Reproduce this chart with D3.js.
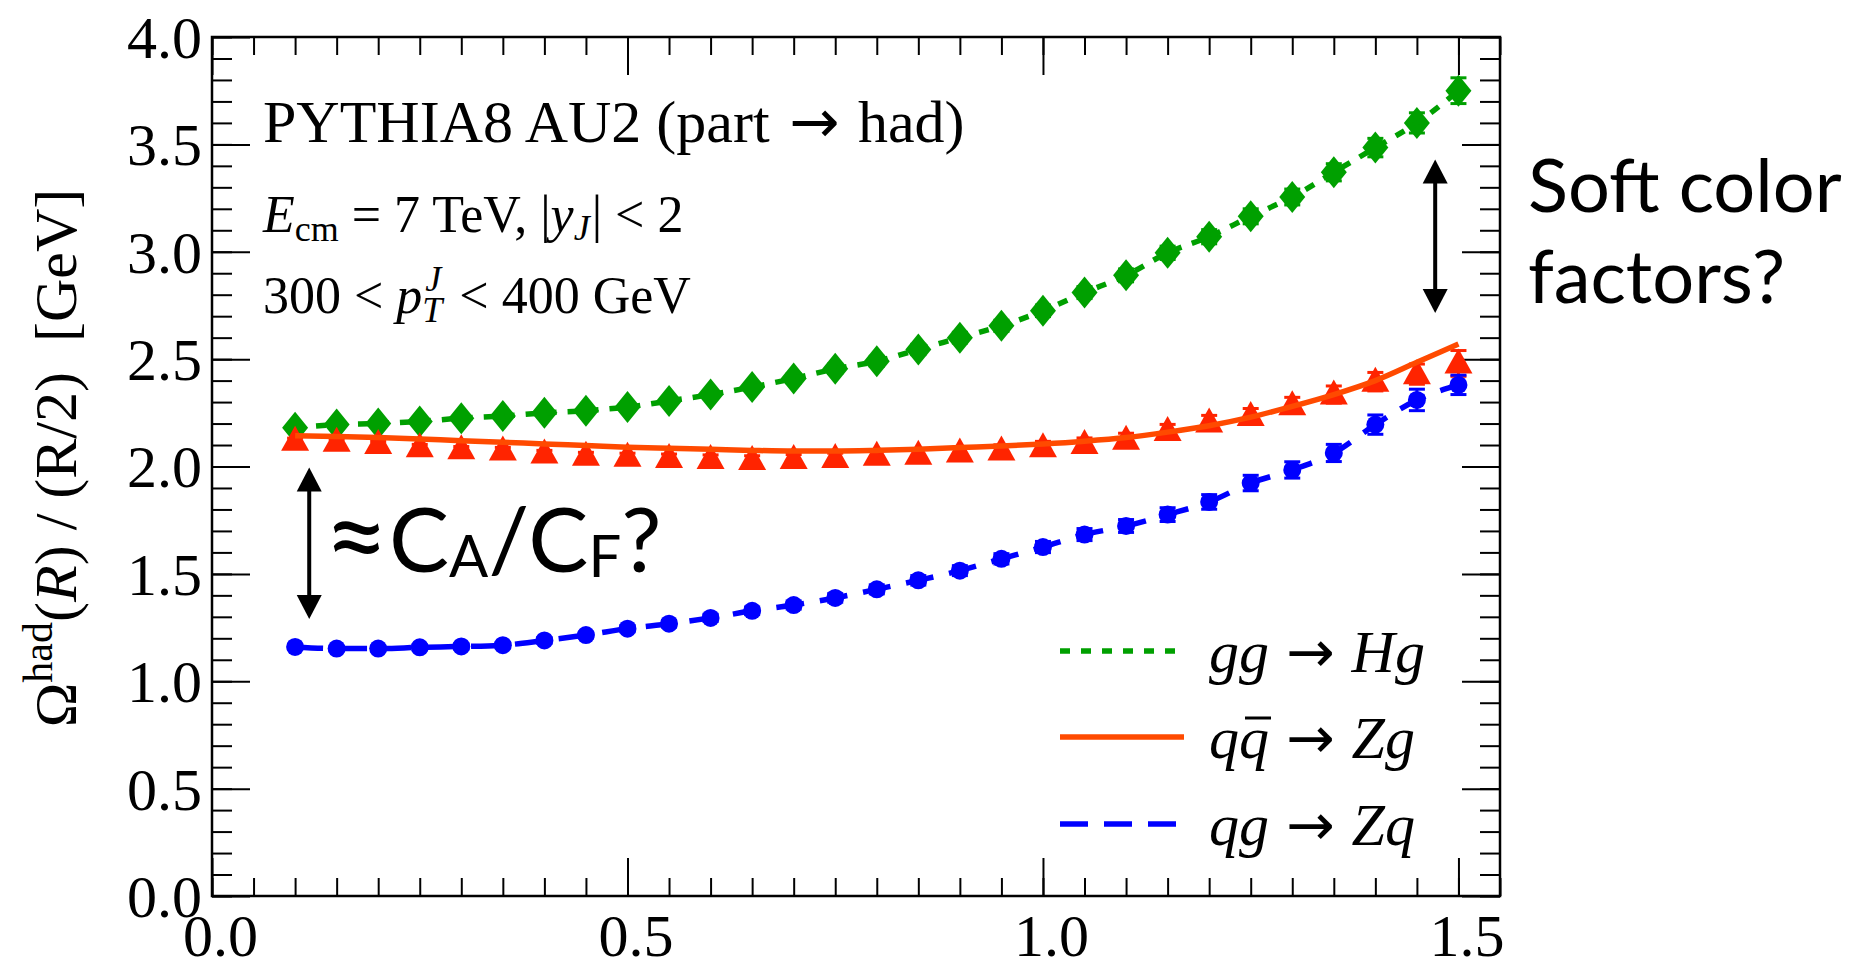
<!DOCTYPE html>
<html>
<head>
<meta charset="utf-8">
<script src="https://cdn.jsdelivr.net/npm/d3@7"></script>
<style>
  body { margin: 0; background: #fff; }
  svg text { font-family: "Liberation Serif", "Times New Roman", serif; white-space: pre; }
  svg text.sans { font-family: Lato, "Open Sans", sans-serif; }
  svg tspan.arrow { font-family: "DejaVu Sans", sans-serif; font-style: normal; }
</style>
</head>
<body>
<script>
// R values (bin centres)
const rValues = [0.10, 0.15, 0.20, 0.25, 0.30, 0.35, 0.40, 0.45, 0.50, 0.55,
                 0.60, 0.65, 0.70, 0.75, 0.80, 0.85, 0.90, 0.95, 1.00, 1.05,
                 1.10, 1.15, 1.20, 1.25, 1.30, 1.35, 1.40, 1.45, 1.50];

// gg -> Hg (green diamonds, dotted line)
const ggHg = [2.180, 2.195, 2.200, 2.210, 2.225, 2.235, 2.250, 2.260, 2.277, 2.305,
              2.335, 2.370, 2.410, 2.455, 2.490, 2.545, 2.600, 2.655, 2.725, 2.810,
              2.890, 2.995, 3.070, 3.165, 3.255, 3.370, 3.485, 3.600, 3.750];
const ggHgErr = [0.012, 0.012, 0.012, 0.013, 0.013, 0.014, 0.015, 0.016, 0.017, 0.018,
                 0.019, 0.020, 0.021, 0.022, 0.023, 0.024, 0.025, 0.026, 0.027, 0.028,
                 0.030, 0.031, 0.033, 0.035, 0.037, 0.040, 0.043, 0.047, 0.060];

// q qbar -> Zg (red triangles) and its solid curve
const qqZg = [2.120, 2.115, 2.105, 2.090, 2.080, 2.075, 2.060, 2.050, 2.045, 2.040,
              2.035, 2.030, 2.035, 2.040, 2.050, 2.055, 2.065, 2.075, 2.090, 2.105,
              2.125, 2.165, 2.205, 2.235, 2.285, 2.335, 2.395, 2.430, 2.480];
const qqZgErr = [0.012, 0.012, 0.012, 0.013, 0.013, 0.014, 0.015, 0.016, 0.017, 0.018,
                 0.019, 0.020, 0.021, 0.022, 0.023, 0.024, 0.025, 0.026, 0.027, 0.028,
                 0.030, 0.031, 0.033, 0.035, 0.037, 0.040, 0.043, 0.047, 0.060];
const qqZgCurve = [2.143, 2.140, 2.135, 2.128, 2.120, 2.113, 2.105, 2.098, 2.090, 2.085,
                   2.080, 2.075, 2.072, 2.072, 2.075, 2.080, 2.088, 2.095, 2.105, 2.118,
                   2.135, 2.160, 2.190, 2.230, 2.280, 2.335, 2.400, 2.485, 2.570];

// qg -> Zq (blue circles, dashed line)
const qgZq = [1.160, 1.152, 1.152, 1.158, 1.162, 1.168, 1.190, 1.215, 1.245, 1.268,
              1.295, 1.328, 1.355, 1.388, 1.428, 1.470, 1.515, 1.570, 1.625, 1.683,
              1.723, 1.776, 1.835, 1.923, 1.984, 2.063, 2.195, 2.310, 2.380];
const qgZqErr = [0.010, 0.010, 0.011, 0.011, 0.012, 0.012, 0.013, 0.014, 0.015, 0.016,
                 0.017, 0.018, 0.019, 0.020, 0.021, 0.022, 0.023, 0.024, 0.026, 0.028,
                 0.030, 0.032, 0.034, 0.036, 0.038, 0.040, 0.045, 0.050, 0.045];

const xTickLabels = ['0.0', '0.5', '1.0', '1.5'];
const yTickLabels = ['0.0', '0.5', '1.0', '1.5', '2.0', '2.5', '3.0', '3.5', '4.0'];

const width = 1872, height = 962;
const plot = { left: 212, right: 1500, top: 37, bottom: 896 };

const x = d3.scaleLinear().domain([0, 1.55]).range([plot.left, plot.right]);
const y = d3.scaleLinear().domain([0, 4]).range([plot.bottom, plot.top]);

const svg = d3.select('body').append('svg')
    .attr('width', width)
    .attr('height', height);

// ---- axes (ticks on all 4 sides, pointing inward) ----
const xMinor = d3.range(0, 32).map(i => i * 0.05);
const xMajor = xTickLabels.map(Number);
const yMinor = d3.range(0, 41).map(i => i * 0.1);
const yMajor = yTickLabels.map(Number);

const addAxis = (axis, tx, ty) => {
  const g = svg.append('g').attr('transform', `translate(${tx},${ty})`).call(axis);
  g.select('.domain').remove();
  g.selectAll('line').attr('stroke', '#000').attr('stroke-width', 2);
  return g;
};

addAxis(d3.axisBottom(x).tickValues(xMinor).tickSizeInner(-18).tickSizeOuter(0).tickFormat(''), 0, plot.bottom);
addAxis(d3.axisTop(x).tickValues(xMinor).tickSizeInner(-18).tickSizeOuter(0).tickFormat(''), 0, plot.top);
addAxis(d3.axisTop(x).tickValues(xMajor).tickSizeInner(-38).tickSizeOuter(0).tickFormat(''), 0, plot.top);
const gx = addAxis(d3.axisBottom(x).tickValues(xMajor).tickSizeInner(-38).tickSizeOuter(0)
    .tickPadding(17).tickFormat((d, i) => xTickLabels[i]), 0, plot.bottom);
gx.selectAll('text')
    .attr('font-family', '"Liberation Serif", serif')
    .attr('font-size', 60)
    .attr('dx', 8)
    .attr('fill', '#000');

addAxis(d3.axisLeft(y).tickValues(yMinor).tickSizeInner(-20).tickSizeOuter(0).tickFormat(''), plot.left, 0);
addAxis(d3.axisRight(y).tickValues(yMinor).tickSizeInner(-20).tickSizeOuter(0).tickFormat(''), plot.right, 0);
addAxis(d3.axisRight(y).tickValues(yMajor).tickSizeInner(-38).tickSizeOuter(0).tickFormat(''), plot.right, 0);
const gy = addAxis(d3.axisLeft(y).tickValues(yMajor).tickSizeInner(-38).tickSizeOuter(0)
    .tickPadding(10).tickFormat((d, i) => yTickLabels[i]), plot.left, 0);
gy.selectAll('text')
    .attr('font-family', '"Liberation Serif", serif')
    .attr('font-size', 60)
    .attr('dy', '0.34em')
    .attr('fill', '#000');

svg.append('rect')
    .attr('x', plot.left).attr('y', plot.top)
    .attr('width', plot.right - plot.left).attr('height', plot.bottom - plot.top)
    .attr('fill', 'none').attr('stroke', '#000').attr('stroke-width', 2.5);

// y axis title
const yTitle = svg.append('text')
    .attr('transform', 'translate(76,458) rotate(-90)')
    .attr('text-anchor', 'middle')
    .attr('font-size', 60);
yTitle.append('tspan').text('Ω');
yTitle.append('tspan').attr('font-size', 42).attr('dy', -24).text('had');
yTitle.append('tspan').attr('dy', 24).text('(');
yTitle.append('tspan').attr('font-style', 'italic').text('R');
yTitle.append('tspan').text(') / (R/2)  [GeV]');

// ---- data marks ----
const markerPath = {
  diamond: 'M0,-16L13,0L0,16L-13,0Z',
  triangle: 'M0,-15L14,10L-14,10Z',
  circle: d3.symbol().type(d3.symbolCircle).size(Math.PI * 9 * 9)()
};

const series = [
  { values: ggHg, errs: ggHgErr, curve: ggHg, color: '#00a000', lineColor: '#00a000', marker: 'diamond', dash: '10,11' },
  { values: qqZg, errs: qqZgErr, curve: qqZgCurve, color: '#ff2400', lineColor: '#ff4a00', marker: 'triangle', dash: null },
  { values: qgZq, errs: qgZqErr, curve: qgZq, color: '#0000ff', lineColor: '#0000ff', marker: 'circle', dash: '28,16' }
];

series.forEach(s => {
  const g = svg.append('g');
  const pts = rValues.map((r, i) => ({ r, v: s.values[i], e: s.errs[i] }));

  g.selectAll('line.err').data(pts).enter().append('line')
      .attr('x1', d => x(d.r)).attr('x2', d => x(d.r))
      .attr('y1', d => y(d.v - d.e)).attr('y2', d => y(d.v + d.e))
      .attr('stroke', s.color).attr('stroke-width', 3);
  g.selectAll('line.capTop').data(pts).enter().append('line')
      .attr('x1', d => x(d.r) - 8).attr('x2', d => x(d.r) + 8)
      .attr('y1', d => y(d.v + d.e)).attr('y2', d => y(d.v + d.e))
      .attr('stroke', s.color).attr('stroke-width', 3);
  g.selectAll('line.capBot').data(pts).enter().append('line')
      .attr('x1', d => x(d.r) - 8).attr('x2', d => x(d.r) + 8)
      .attr('y1', d => y(d.v - d.e)).attr('y2', d => y(d.v - d.e))
      .attr('stroke', s.color).attr('stroke-width', 3);

  g.selectAll('path.mk').data(pts).enter().append('path')
      .attr('d', markerPath[s.marker])
      .attr('transform', d => `translate(${x(d.r)},${y(d.v)})`)
      .attr('fill', s.color);

  const line = d3.line()
      .x((d, i) => x(rValues[i]))
      .y(d => y(d))
      .curve(d3.curveMonotoneX);
  g.append('path')
      .attr('d', line(s.curve))
      .attr('fill', 'none')
      .attr('stroke', s.lineColor)
      .attr('stroke-width', 5.5)
      .attr('stroke-dasharray', s.dash);
});

// ---- header text ----
const t1 = svg.append('text').attr('x', 263).attr('y', 142).attr('font-size', 60);
t1.append('tspan').text('PYTHIA8 AU2 (part ');
t1.append('tspan').attr('class', 'arrow').attr('font-size', 60).attr('dx', 5).text('→');
t1.append('tspan').attr('dx', 3).text(' had)');

const t2 = svg.append('text').attr('x', 263).attr('y', 232).attr('font-size', 52);
t2.append('tspan').attr('font-style', 'italic').text('E');
t2.append('tspan').attr('font-size', 36).attr('dy', 9).text('cm');
t2.append('tspan').attr('dy', -9).text(' = 7 TeV, |');
t2.append('tspan').attr('font-style', 'italic').text('y');
t2.append('tspan').attr('font-style', 'italic').attr('font-size', 36).attr('dy', 8).text('J');
t2.append('tspan').attr('dy', -8).attr('dx', 2).text('| < 2');

const t3 = svg.append('text').attr('x', 263).attr('y', 313).attr('font-size', 52);
t3.append('tspan').text('300 < ');
t3.append('tspan').attr('font-style', 'italic').text('p');
const pw = t3.node().getComputedTextLength();
svg.append('text').attr('x', 263 + pw + 3).attr('y', 313 - 22).attr('font-size', 36)
    .attr('font-style', 'italic').text('J');
svg.append('text').attr('x', 263 + pw).attr('y', 313 + 9).attr('font-size', 36)
    .attr('font-style', 'italic').text('T');
svg.append('text').attr('x', 263 + pw + 24).attr('y', 313).attr('font-size', 52)
    .text(' < 400 GeV');

// ---- legend ----
const legendRows = [
  { base: 672, color: '#00a000', dash: '10,11', left: 'gg', right: 'Hg' },
  { base: 758, color: '#ff4a00', dash: null, left: 'qq', right: 'Zg' },
  { base: 845, color: '#0000ff', dash: '28,16', left: 'qg', right: 'Zq' }
];
legendRows.forEach((row, k) => {
  svg.append('line')
      .attr('x1', 1060).attr('x2', 1184)
      .attr('y1', row.base - 21).attr('y2', row.base - 21)
      .attr('stroke', row.color).attr('stroke-width', 5.5)
      .attr('stroke-dasharray', row.dash);
  const t = svg.append('text').attr('x', 1209).attr('y', row.base).attr('font-size', 60);
  t.append('tspan').attr('font-style', 'italic').text(row.left + ' ');
  t.append('tspan').attr('class', 'arrow').attr('font-size', 58).attr('dx', 2).text('→');
  t.append('tspan').attr('font-style', 'italic').attr('dx', 2).text(' ' + row.right);
  if (k === 1) {
    // bar over the second q
    const ext = t.node().getExtentOfChar(1);
    svg.append('line')
        .attr('x1', ext.x + 6).attr('x2', ext.x + ext.width + 2)
        .attr('y1', row.base - 40).attr('y2', row.base - 40)
        .attr('stroke', '#000').attr('stroke-width', 3);
  }
});

// ---- annotations ----
const arrowHead = (cx, cy, dir) => {
  svg.append('path')
      .attr('d', `M${cx},${cy}L${cx - 12.5},${cy - dir * 24}L${cx + 12.5},${cy - dir * 24}Z`)
      .attr('fill', '#000');
};
const doubleArrow = (r, v1, v2) => {
  const ax = x(r), yTop = y(v1), yBot = y(v2);
  svg.append('line')
      .attr('x1', ax).attr('x2', ax).attr('y1', yTop + 20).attr('y2', yBot - 20)
      .attr('stroke', '#000').attr('stroke-width', 4);
  arrowHead(ax, yTop, -1);
  arrowHead(ax, yBot, 1);
};
doubleArrow(0.117, 1.995, 1.29);
doubleArrow(1.472, 3.43, 2.715);

const ca = svg.append('text').attr('class', 'sans').attr('x', 324).attr('y', 572).attr('font-size', 90);
ca.append('tspan').attr('font-size', 112).attr('dy', 4).text('≈');
ca.append('tspan').attr('font-size', 90).attr('dy', -4).text('C');
ca.append('tspan').attr('font-size', 58).attr('dy', 5).text('A');
ca.append('tspan').attr('dy', -5).text('/C');
ca.append('tspan').attr('font-size', 58).attr('dy', 5).text('F');
ca.append('tspan').attr('dy', -5).text('?');

svg.append('text').attr('class', 'sans').attr('x', 1528).attr('y', 212).attr('font-size', 74)
    .text('Soft color');
svg.append('text').attr('class', 'sans').attr('x', 1528).attr('y', 303).attr('font-size', 74)
    .text('factors?');
</script>
</body>
</html>
